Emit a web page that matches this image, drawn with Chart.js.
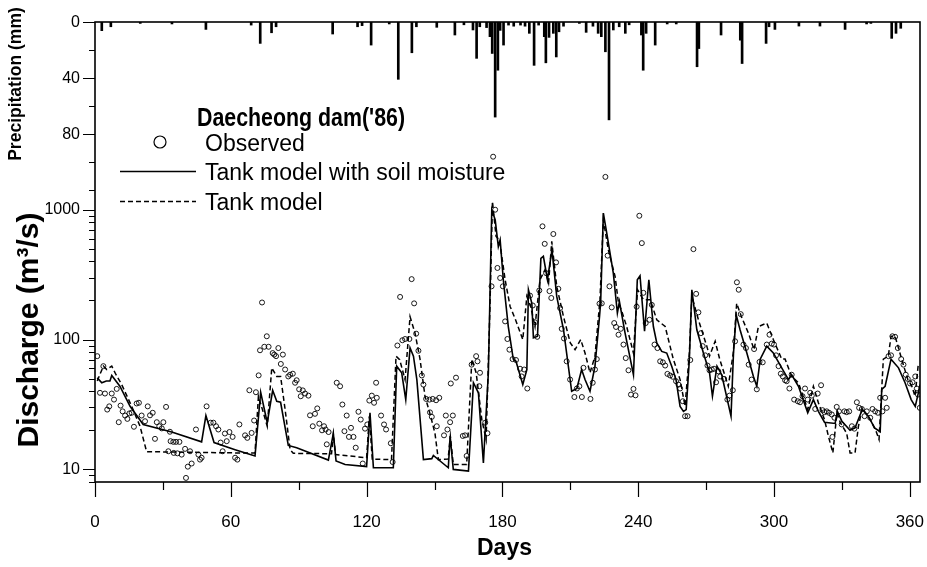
<!DOCTYPE html>
<html>
<head>
<meta charset="utf-8">
<script src="https://cdn.jsdelivr.net/npm/chart.js@4.4.1/dist/chart.umd.min.js"></script>
<style>
  html,body{margin:0;padding:0;background:#fff;}
  canvas{display:block;}
</style>
</head>
<body>
<canvas id="c" width="927" height="567"></canvas>
<script>
// ---------------- DATA ----------------
const xTickLabels = [0, 60, 120, 180, 240, 300, 360];
const qTickLabels = [10, 100, 1000];
const pTickLabels = [0, 40, 80];

// Daily precipitation (day, mm)
const rainDay = [3,7,20,34,49,69,73,78,80,105,116,118,122,130,134,140,142,151,159,163,167,168.6,170,173,174.5,175.5,176.8,178,179,180.5,182.7,185,188,190,191.9,194,196,198.5,199.2,200.6,202.5,203.8,205,207,214,217,220,222.3,223.7,225.5,227.1,229,231.6,234.3,236,241.4,242.2,243.5,247.5,252.8,256.8,266,266.8,276.6,285.1,285.9,296.5,297.8,300.4,311,320.3,331.4,340.9,342.8,352,353.9,356];
const rainMm  = [6.2,3.4,1,1.4,5.3,2.2,15.3,7.7,3.4,8.6,3.4,2.6,16.5,1.4,41,22,3.4,3.8,9.3,2,5.7,26,3.4,4,10.5,22.5,68,34.5,6,16.5,2.2,3,2.2,3,8.1,31,2.2,10.5,29.2,11,8.1,25,7,3,1,7.4,3,8.1,10.5,21.3,70,5.7,3.4,8.1,2,9.3,34.5,8.1,16.5,1.4,1.4,32,19,9.3,13,29.7,15.3,3.4,5.3,2.9,2.9,5.3,1.4,1,11.7,8.1,4.5];

// Observed discharge (day, m3/s)
const obsDay = [1,2.2,3.7,4.4,5.4,6.3,7.4,8.4,9.6,10.5,11.3,12.2,13.3,14.3,15.2,16.2,17.2,18.4,19.4,20.6,22.1,23.3,24.3,25.5,26.5,27.3,28.4,29.5,30.2,31.4,32.4,33.1,33.4,34.6,34.8,35.8,36.4,37.3,38.3,39.8,40.2,41,42,42.7,44.6,45.7,46.4,47.1,49.3,51.1,52.3,53.5,54.5,55.5,56.4,57.4,58.2,59.4,60.8,61.9,62.9,63.8,66.3,67.3,68.2,69.2,70.3,71.1,72.3,72.9,73.8,74.8,75.9,76.7,78.5,79.2,80,81,82.1,83,84,85.4,86.2,87.4,88.4,89.1,90.2,90.9,91.8,92.8,94.3,95,96.2,97.2,98.2,99.1,100.3,101.2,101.9,102.4,103.2,106.8,108.3,109.3,110.2,111.2,112.2,113.1,114.2,115.2,116.4,117.4,118.3,119.3,120.3,121.2,122.3,123.3,124.2,124.5,126.4,127.7,128.6,130.7,131.5,133.6,134.8,135.8,137,138.9,139.9,141,141.9,142.9,144.4,145.1,146.3,147.8,148,148.8,149.2,150.7,151,152.1,154.2,155,155.7,156.9,157.2,158.1,159.5,162.5,163.5,164.2,166.4,168.4,169,169.8,170.1,172.4,173.4,175.2,175.9,176.8,177.8,179,180.2,181.2,182.2,183.1,184.5,186,187.8,188.5,189.6,191,192.2,193.4,194.4,195.4,196.3,197.7,198.7,199.3,200.8,201.6,202.5,203.7,204.7,205.5,206.2,207.2,208.4,209.9,211.8,212.9,214,215.1,215.8,218.9,219.9,220.9,221.7,222.9,223.9,225.5,226.5,227.3,228.3,229.4,230.2,231.3,232.3,233.5,234.5,235.7,236.8,237.9,238.8,239.3,240.5,241.6,242.3,243.3,245,246,247.2,248.5,249.7,250.9,251.9,252.9,254.1,255.3,256.7,257.8,258.5,259.7,260.7,261.8,263,264.4,265.6,266.6,267.7,268.5,269.6,270.6,271.5,272.5,273.5,274.4,275.4,276.2,277.9,279.4,280.3,281.8,282.8,283.6,284.4,285.3,286.5,287.6,288.8,290.1,291.2,292.4,293.6,295,296.8,298,299,300,300.9,302,303,303.9,304.9,305.6,306.8,307.8,308.9,310.5,311.5,312.6,313.7,314.9,316,316.7,318.2,319.3,320.8,321.4,322.3,323.3,324.3,325.5,325.8,326.7,327.7,328.7,329.9,331.1,332.1,333.2,334.4,335.5,336.6,337.6,338.8,340,341,342.5,343.5,344.7,345.9,346.9,347.9,349.1,349.8,350.6,351.7,352.3,353.5,354.7,356.2,357.2,358.2,359.1,360.1,361.2,362.4,363.1,363.6,364.4];
const obsQ = [74.5,38.9,62.4,38.4,28.9,30.6,38.4,34.5,41.7,23.1,31,28,26,24.5,27,27.3,21.3,32.2,32.6,26,23.5,30.6,26.1,27.3,17.2,23.1,21.5,20.7,23.1,30.3,13.8,19.5,16.5,16.3,13.4,16.3,13.3,16.3,13,14.4,8.6,10.5,13.8,11.1,20.3,13,11.9,12.3,30.6,22.9,22.9,21.5,20.3,16.1,13.8,18.9,16.5,19.4,17.8,12.3,11.9,22.2,18.3,17.5,40.7,19.1,23.8,39.3,53,82.7,193,88,106,88,78.7,76.6,74.5,86,64.9,76.6,58.8,52,53.6,54.6,46.5,48.6,41.4,36.6,40.6,38.4,37,26.1,21.5,26.8,29.5,22.5,20,21.5,20.3,15.6,19.4,46.5,43.7,31.6,19.7,26,17.8,20.9,17.8,14.7,27.8,24.2,11.1,20.6,22.2,33.9,37,32.6,46.5,35.6,26,22.2,20.3,15.9,11.4,90,213,98.8,101,101,292,190,111,82,52.9,45,34.9,34.5,27.5,25.4,34.9,34.1,21.5,35.6,18.3,26,20.3,23.1,45.9,26,50.9,18.1,18.3,12.7,64.1,74.5,68,43.7,55.5,22.9,19,257,2560,1000,356,298,257,138,101,83.6,70.7,69.6,59.6,52,58.8,42,218,183,136,105,239,745,546,325,236,209,650,393,246,175,121,102,68,49.2,36.1,42,43.7,36.1,60.6,34.9,46.5,58.8,70.7,189,190,1790,443,257,177,134,125,109,121,91.5,72,58,37.7,41.7,37.2,179,898,553,229,134,142,185,91.5,86,68,66.8,63.1,54.4,52.9,51.7,47.8,45,42,33.5,25.7,25.7,69.6,497,225,162,112,89,75.6,63.1,58,58.8,59.6,46.9,56.9,52,49.8,34.5,37,40.7,97,276,242,157,91.5,86,64.1,49.2,84.5,41.4,67.3,66.8,91.5,109,93,91.5,75.6,62.4,54.6,52,48.6,47.8,42,53.6,34.5,33.5,32.9,36.6,42,34.5,38.9,37,29.2,38.4,44.5,28.6,27.6,28,27.3,26.5,17.8,25,30.3,28,22.2,28,27.6,28,21.5,20.6,32.9,29.8,29.2,25.7,28,25,29.2,28,27.3,35.6,28,35.6,29.8,74.5,75.6,106,105,86,70.7,64.1,53.6,49.8,45.9,46.9,52,42,37.7,29.8];

// Tank model with soil moisture (day, m3/s)
const smDay = [1,3,5,6.6,7.4,11,15.5,21.3,33.9,47.1,49,52.6,61.9,70.7,73.2,76.1,78.5,80.3,82,85.4,89.1,103.1,105.3,106.5,110.5,120,121.5,123,131.8,133.3,135.5,137.3,139.2,140.7,142.2,145.1,148.8,149.5,156.1,156.9,158.3,165,167.2,169.4,171.6,173.8,175.3,176.8,178.2,179,180.4,182.6,184.8,186,189,190.8,191.5,193,193.7,195.5,197,198.1,199.9,201.9,204,207,210.6,212.9,215,216.5,218.7,220.9,222.9,223.4,224.6,226.1,229,230.8,231.7,234.2,237.9,239.6,240.8,242.8,244.7,246.7,248.2,250.4,252.6,254.8,256.7,258.5,260,261.2,262.6,263.7,265.9,268.8,271.5,272.8,274.8,276.9,281,282.1,283.3,285,288,290.9,292.4,293.9,296.8,299.7,303.4,306.4,307.8,310.8,314.9,317.4,319.6,322.3,327,328,330,333.6,335.8,339,341.7,344.4,346.9,347.6,349.1,351.7,355,357.9,360.6,362.4,363.6,364.5];
const smQ = [50.7,46.5,48,48,52.9,43.7,30.6,22.2,19.4,16.3,26,16.1,14.2,12.7,39.3,22.9,40.7,33.5,32.9,15.3,14.7,11.8,18.9,11.6,10.9,10.5,27.3,10.3,10.3,62.4,55.5,34.5,86.3,74.5,49.2,11.9,12.1,12.8,10.3,18.1,10,9.7,46.5,38.9,11.2,55.5,1000,837,521,586,289,126,70.7,68,45,58.8,242,190,103,106,422,438,289,490,215,119,40,42,58.8,49.2,40,62.4,150,192,943,660,325,160,196,112,53.6,289,310,116,289,126,94.3,81,78.7,62.4,49.2,30.6,28,28.9,70.7,242,119,78.7,55.5,36.6,62.4,53.6,25.7,78.7,155,119,78.7,52,43.7,70.7,89,78.7,60.6,49.2,53.6,43.7,27.3,34.5,28,23.1,22.6,28,23.5,20,20.9,28.9,25.7,20.9,19.5,41.4,43.7,70.7,60.6,46.5,34.5,30.6,37.7,45];

// Tank model (day, m3/s)
const tkDay = [1,3.7,5.2,7.4,9.3,11.8,16.2,19.9,22.8,61.9,70.7,72.2,74.4,76.1,78.1,80.3,82,84,86.2,87.6,104.5,105.3,106.3,120,121.2,122.5,131,133,134.6,137,139.2,141.4,143.6,145.8,148.3,150.2,151.7,156,157,158.3,164.2,166.5,168.4,170.9,172.8,174.5,175.6,177.2,178.7,181.2,183.4,185.8,189,190.8,192.5,194.4,196.6,198.8,200.4,201.8,204,207,210,212.1,214.6,216.5,218.7,220.9,223.1,224.6,226.8,229.8,231.3,232.5,234.9,237.9,239.7,242.3,245.3,248.2,251.9,255.5,258.5,260.7,262.6,263.7,266.6,270.3,271.5,274,276,279.8,282,283.5,285.6,288.7,291.2,293.1,296.8,299.7,303.4,304.9,307.8,310.8,314.9,317.4,319.6,322.3,324,326,327.8,329.3,332.1,333.6,335.8,337.3,339,342.5,344.8,346.4,348.3,350.5,351.7,353.5,356.4,359.1,360.9,362.3,363.8];
const tkQ = [48,62.4,58.8,62.4,53.6,45,30.6,21.5,13.7,13.4,13.4,36.6,27.3,21.5,60.6,52,52,28.9,14.2,13.3,13.2,18.6,13,12.3,25.7,12,11.9,74.5,70,49.2,150,112,70.7,36.6,25.7,19,11.9,12,18,10.9,10.9,70.7,55.5,24.2,17,179,1160,622,586,289,180,142,100,215,179,126,289,345,273,570,257,150,94.3,83.6,100,78.7,55.5,74.5,203,837,490,305,190,170,126,78.7,242,203,203,142,126,70.7,49.2,30.6,78.7,215,142,89,74.5,97,70.7,43.7,78.7,190,150,112,83.6,126,134,100,70.7,70.7,52,46.5,28.9,43.7,32.6,24.2,18.1,13.4,27.3,22.9,19,13.4,13.4,21.5,29.6,24.2,20.3,17,70.7,74.5,106,106,70.7,49.2,43.7,36.6,66];

// ---------------- CHART ----------------
const SANS = '"Liberation Sans", Arial, sans-serif';

const pairs = (xs, ys) => xs.map((x, i) => ({x: x, y: ys[i]}));

// draw text squeezed to a target width (condensed look of the original)
function fitText(c, txt, x, y, width) {
  const w = c.measureText(txt).width;
  const k = Math.min(1, width / w);
  c.save();
  c.translate(x, y);
  c.scale(k, 1);
  c.fillText(txt, 0, 0);
  c.restore();
}

const decorPlugin = {
  id: 'decor',
  afterDraw(chart) {
    const c = chart.ctx;
    const a = chart.chartArea;
    const sx = chart.scales.x, sy = chart.scales.y, sp = chart.scales.yp;
    c.save();
    c.strokeStyle = '#000';
    c.fillStyle = '#000';
    // frame
    c.lineWidth = 1.6;
    c.strokeRect(a.left, a.top, a.right - a.left, a.bottom - a.top);
    c.lineWidth = 1.2;
    c.beginPath();
    // x ticks
    for (let d = 0; d <= 360; d += 30) {
      const px = Math.round(sx.getPixelForValue(d)) + 0.5;
      const len = (d % 60 === 0) ? 15 : 8;
      c.moveTo(px, a.bottom); c.lineTo(px, a.bottom + len);
    }
    // discharge ticks
    const qt = [8, 9];
    for (let dec = 10; dec <= 100; dec *= 10) for (let k = 1; k <= 9; k++) qt.push(k * dec);
    qt.push(1000);
    qt.forEach(v => {
      const py = Math.round(sy.getPixelForValue(v)) + 0.5;
      const major = qTickLabels.includes(v);
      c.moveTo(a.left, py); c.lineTo(a.left - (major ? 12 : 6), py);
    });
    // precipitation ticks
    [0, 20, 40, 60, 80, 100, 120].forEach(v => {
      const py = Math.round(sp.getPixelForValue(v)) + 0.5;
      const major = pTickLabels.includes(v);
      c.moveTo(a.left, py); c.lineTo(a.left - (major ? 12 : 6), py);
    });
    c.stroke();

    // precipitation tick labels
    c.font = '16px ' + SANS;
    c.textAlign = 'right';
    c.textBaseline = 'middle';
    pTickLabels.forEach(v => {
      c.fillText(String(v), a.left - 15, sp.getPixelForValue(v) + 1);
    });

    // axis titles
    c.save();
    c.translate(16, 84);
    c.rotate(-Math.PI / 2);
    c.font = 'bold 17.5px ' + SANS;
    c.textAlign = 'center';
    c.textBaseline = 'middle';
    c.fillText('Precipitation (mm)', 0, 0);
    c.restore();

    c.save();
    c.translate(30, 330);
    c.rotate(-Math.PI / 2);
    c.font = 'bold 30px ' + SANS;
    c.textAlign = 'center';
    c.textBaseline = 'middle';
    c.fillText('Discharge (m\u00B3/s)', 0, 0);
    c.restore();

    c.font = 'bold 23px ' + SANS;
    c.textAlign = 'left';
    c.textBaseline = 'middle';
    fitText(c, 'Days', 477, 549, 56);

    // legend
    c.textAlign = 'left';
    c.textBaseline = 'alphabetic';
    c.font = 'bold 25px ' + SANS;
    fitText(c, "Daecheong dam('86)", 197, 126, 208);
    c.font = '23px ' + SANS;
    c.lineWidth = 1.2;
    c.beginPath(); c.arc(160, 142, 6, 0, Math.PI * 2); c.stroke();
    c.fillText('Observed', 205, 151);
    c.lineWidth = 1.5;
    c.beginPath(); c.moveTo(120, 171.5); c.lineTo(196, 171.5); c.stroke();
    c.fillText('Tank model with soil moisture', 205, 180);
    c.setLineDash([5, 3]);
    c.beginPath(); c.moveTo(120, 201.5); c.lineTo(196, 201.5); c.stroke();
    c.setLineDash([]);
    c.fillText('Tank model', 205, 210);
    c.restore();
  }
};

new Chart(document.getElementById('c'), {
  type: 'scatter',
  data: {
    datasets: [
      {
        type: 'bar', label: 'Precipitation', xAxisID: 'x', yAxisID: 'yp',
        data: pairs(rainDay, rainMm),
        backgroundColor: '#000', borderWidth: 0, barThickness: 2, grouped: false
      },
      {
        type: 'scatter', label: 'Observed', xAxisID: 'x', yAxisID: 'y',
        data: pairs(obsDay, obsQ),
        pointStyle: 'circle', pointRadius: 2.5, borderWidth: 0.9,
        borderColor: '#000', backgroundColor: 'rgba(0,0,0,0)'
      },
      {
        type: 'line', label: 'Tank model with soil moisture', xAxisID: 'x', yAxisID: 'y',
        data: pairs(smDay, smQ),
        borderColor: '#000', borderWidth: 1.6, pointRadius: 0, tension: 0, fill: false
      },
      {
        type: 'line', label: 'Tank model', xAxisID: 'x', yAxisID: 'y',
        data: pairs(tkDay, tkQ),
        borderColor: '#000', borderWidth: 1.5, borderDash: [5, 3], pointRadius: 0, tension: 0, fill: false
      }
    ]
  },
  options: {
    responsive: false,
    animation: false,
    devicePixelRatio: 1,
    layout: {padding: {top: 22, right: 7, left: 0, bottom: 0}},
    plugins: {legend: {display: false}, tooltip: {enabled: false}},
    scales: {
      x: {
        type: 'linear', position: 'bottom', min: 0, max: 364.5, offset: false,
        afterBuildTicks: s => { s.ticks = xTickLabels.map(v => ({value: v})); },
        afterFit: s => { s.height = 85; s.paddingLeft = 0; s.paddingRight = 0; },
        grid: {display: false, drawTicks: false},
        border: {display: false},
        ticks: {color: '#000', padding: 30, maxRotation: 0, font: {family: SANS, size: 17}, callback: v => String(v)}
      },
      y: {
        type: 'logarithmic', position: 'left', min: 8, max: 27900,
        afterBuildTicks: s => { s.ticks = qTickLabels.map(v => ({value: v})); },
        afterFit: s => { s.width = 95; s.paddingTop = 0; s.paddingBottom = 0; },
        grid: {display: false, drawTicks: false},
        border: {display: false},
        ticks: {color: '#000', padding: 15, font: {family: SANS, size: 16}, callback: v => String(v)}
      },
      yp: {
        type: 'linear', display: false, reverse: true, min: 0, max: 329
      }
    }
  },
  plugins: [decorPlugin]
});
</script>
</body>
</html>
